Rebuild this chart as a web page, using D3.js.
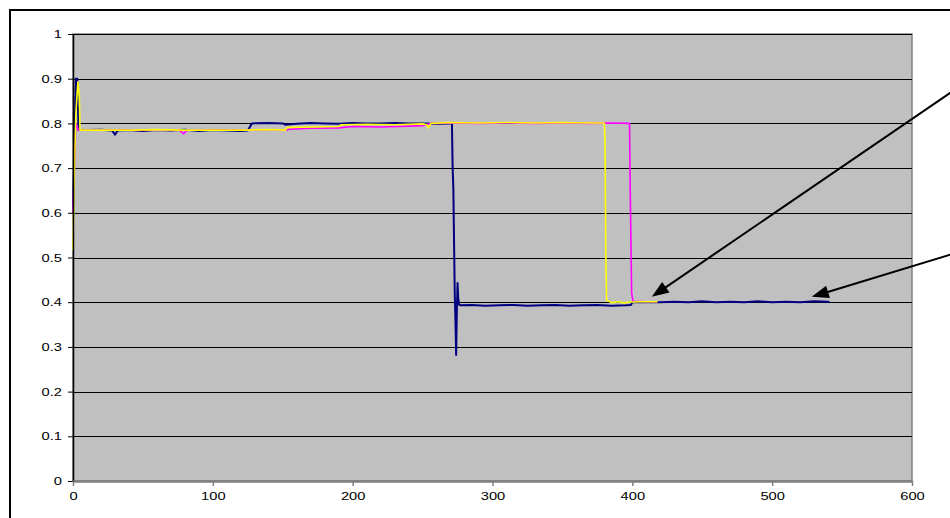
<!DOCTYPE html>
<html>
<head>
<meta charset="utf-8">
<script src="https://cdn.jsdelivr.net/npm/d3@7/dist/d3.min.js"></script>
<style>
  html, body { margin: 0; padding: 0; background: #fff; }
  svg { display: block; }
  text { font-family: "Liberation Sans", Arial, sans-serif; }
</style>
</head>
<body>
<svg id="chart" width="950" height="518"></svg>
<script>
// ---- data ----
const xTicks = [0, 100, 200, 300, 400, 500, 600];
const yTicks = [0, 0.1, 0.2, 0.3, 0.4, 0.5, 0.6, 0.7, 0.8, 0.9, 1];

const blueX = [0, 1, 2, 3, 4, 10, 20, 28, 30, 32, 40, 50, 60, 70, 80, 90, 100, 110, 120, 125, 127, 128, 140, 150, 152, 160, 170, 180, 190, 200, 210, 220, 230, 240, 250, 260, 270, 271, 271.5, 272, 273, 273.5, 274, 274.5, 275, 275.5, 276, 277, 285, 295, 305, 315, 325, 335, 345, 355, 365, 375, 385, 395, 399, 400, 410, 420, 430, 440, 450, 460, 470, 480, 490, 500, 510, 520, 530, 540, 541];
const blueY = [0.6, 0.75, 0.9, 0.9, 0.785, 0.785, 0.786, 0.784, 0.775, 0.784, 0.785, 0.783, 0.785, 0.784, 0.786, 0.783, 0.785, 0.784, 0.783, 0.784, 0.795, 0.8, 0.801, 0.8, 0.797, 0.799, 0.801, 0.8, 0.799, 0.801, 0.8, 0.8, 0.801, 0.8, 0.8, 0.799, 0.8, 0.8, 0.7, 0.655, 0.42, 0.36, 0.282, 0.38, 0.443, 0.41, 0.395, 0.393, 0.394, 0.392, 0.393, 0.394, 0.392, 0.393, 0.394, 0.392, 0.393, 0.394, 0.392, 0.393, 0.394, 0.4, 0.4, 0.4, 0.401, 0.4, 0.402, 0.4, 0.401, 0.4, 0.402, 0.4, 0.401, 0.4, 0.402, 0.401, 0.4];

const magentaX = [0, 1, 2, 4, 20, 40, 60, 76, 79, 82, 100, 120, 140, 152, 155, 170, 190, 200, 220, 240, 250, 256, 270, 290, 310, 330, 350, 370, 385, 397, 398, 398.5, 399.5, 400.5, 410, 418];
const magentaY = [0.6, 0.7, 0.8, 0.785, 0.785, 0.785, 0.785, 0.785, 0.777, 0.785, 0.785, 0.785, 0.785, 0.785, 0.787, 0.789, 0.79, 0.793, 0.792, 0.794, 0.795, 0.8, 0.801, 0.8, 0.801, 0.8, 0.801, 0.8, 0.801, 0.8, 0.8, 0.65, 0.42, 0.402, 0.401, 0.401];

const yellowX = [0, 1, 2, 3.5, 4.5, 5, 20, 40, 60, 80, 100, 120, 140, 152, 153, 170, 190, 192, 210, 230, 250, 253, 254, 256, 270, 290, 310, 330, 350, 370, 379, 380, 380.5, 381, 381.6, 385, 390, 395, 396, 405, 418];
const yellowY = [0.517, 0.7, 0.82, 0.893, 0.86, 0.785, 0.785, 0.785, 0.786, 0.785, 0.785, 0.785, 0.786, 0.785, 0.791, 0.792, 0.793, 0.797, 0.798, 0.797, 0.799, 0.797, 0.79, 0.8, 0.802, 0.801, 0.802, 0.801, 0.802, 0.801, 0.801, 0.8, 0.756, 0.513, 0.405, 0.399, 0.401, 0.398, 0.4, 0.401, 0.401];

// annotation arrows (data units): start -> tip
const arrowStartX = [645, 645];
const arrowStartY = [0.906, 0.523];
const arrowTipX = [413.9, 528.3];
const arrowTipY = [0.412, 0.412];

// ---- layout ----
const svg = d3.select("#chart");
const padL = 73, padR = 912, padT = 34, padB = 481;
const x = d3.scaleLinear().domain([0, 600]).range([padL, padR]);
const y = d3.scaleLinear().domain([0, 1]).range([padB, padT]);

// outer chart frame
svg.append("rect").attr("x", 10).attr("y", 10).attr("width", 980).attr("height", 540)
  .attr("fill", "none").attr("stroke", "#000").attr("stroke-width", 2);

// plot area
svg.append("rect").attr("x", padL).attr("y", padT).attr("width", padR - padL).attr("height", padB - padT)
  .attr("fill", "#C0C0C0").attr("stroke", "#808080").attr("stroke-width", 1.5);

// gridlines
svg.append("g").selectAll("line").data(yTicks.filter(d => d > 0)).join("line")
  .attr("x1", padL).attr("x2", padR)
  .attr("y1", d => Math.round(y(d)) + 0.5).attr("y2", d => Math.round(y(d)) + 0.5)
  .attr("stroke", "#000").attr("stroke-width", 1);

// series
const series = [
  { xs: blueX, ys: blueY, color: "#000080", w: 2 },
  { xs: magentaX, ys: magentaY, color: "#FF00FF", w: 1.6 },
  { xs: yellowX, ys: yellowY, color: "#FFFF00", w: 1.6 }
];
const line = d3.line().x(d => x(d[0])).y(d => y(d[1]));
series.forEach(s => {
  const pts = s.xs.map((v, i) => [v, s.ys[i]]);
  svg.append("path").datum(pts).attr("d", line)
    .attr("fill", "none").attr("stroke", s.color).attr("stroke-width", s.w)
    .attr("stroke-linejoin", "round");
});

// axes
const stretch = 1.4;
const yAxis = svg.append("g").attr("transform", `translate(${padL},0)`)
  .call(d3.axisLeft(y).tickValues(yTicks).tickSize(5).tickSizeOuter(0)
    .tickFormat(d => d3.format("~g")(d)));
yAxis.select(".domain").attr("stroke", "#000").attr("stroke-width", 1.5);
yAxis.selectAll(".tick line").attr("stroke", "#000");
yAxis.selectAll(".tick text")
  .attr("x", -11 / stretch).attr("dy", "0.35em")
  .attr("transform", `scale(${stretch},1)`)
  .attr("font-size", 10.5).attr("fill", "#000")
  .attr("font-family", "Liberation Sans, Arial, sans-serif");

const xAxis = svg.append("g").attr("transform", `translate(0,${padB})`)
  .call(d3.axisBottom(x).tickValues(xTicks).tickSize(5).tickSizeOuter(0));
xAxis.select(".domain").attr("stroke", "#808080").attr("stroke-width", 2.5);
xAxis.selectAll(".tick line").attr("stroke", "#808080").attr("stroke-width", 1.5);
xAxis.selectAll(".tick text")
  .attr("x", 0).attr("y", 19).attr("dy", 0)
  .attr("transform", `scale(${stretch},1)`)
  .attr("font-size", 10.5).attr("fill", "#000")
  .attr("font-family", "Liberation Sans, Arial, sans-serif");

// arrows
const headLen = 17, headHalf = 6.5;
arrowTipX.forEach((tx, i) => {
  const x0 = x(arrowStartX[i]), y0 = y(arrowStartY[i]);
  const x1 = x(tx), y1 = y(arrowTipY[i]);
  const dx = x1 - x0, dy = y1 - y0, L = Math.hypot(dx, dy);
  const ux = dx / L, uy = dy / L;
  const bx = x1 - ux * headLen, by = y1 - uy * headLen;
  svg.append("line").attr("x1", x0).attr("y1", y0).attr("x2", bx + ux * 2).attr("y2", by + uy * 2)
    .attr("stroke", "#000").attr("stroke-width", 2);
  svg.append("polygon")
    .attr("points", [[x1, y1], [bx - uy * headHalf, by + ux * headHalf], [bx + uy * headHalf, by - ux * headHalf]].map(p => p.join(",")).join(" "))
    .attr("fill", "#000");
});
</script>
</body>
</html>
